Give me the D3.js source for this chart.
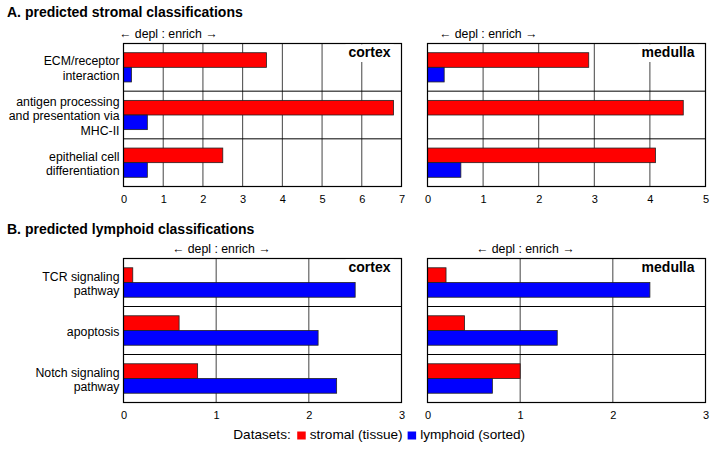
<!DOCTYPE html>
<html><head><meta charset="utf-8">
<script src="https://cdn.jsdelivr.net/npm/d3@7"></script>
<style>body{margin:0;background:#fff}svg{display:block}text{font-family:"Liberation Sans",Arial,sans-serif;fill:#000}</style>
</head><body>
<svg id="c" width="714" height="450"></svg>
<script>
// ---- data ----
const seriesNames = ["stromal (tissue)", "lymphoid (sorted)"];
const seriesColors = ["#ff0000", "#0000ff"];
const stromalCategories = ["ECM/receptor\ninteraction", "antigen processing\nand presentation via\nMHC-II", "epithelial cell\ndifferentiation"];
const lymphoidCategories = ["TCR signaling\npathway", "apoptosis", "Notch signaling\npathway"];
const stromalCortexStromal = [3.6, 6.8, 2.5];
const stromalCortexLymphoid = [0.2, 0.6, 0.6];
const stromalMedullaStromal = [2.9, 4.6, 4.1];
const stromalMedullaLymphoid = [0.3, 0, 0.6];
const lymphoidCortexStromal = [0.1, 0.6, 0.8];
const lymphoidCortexLymphoid = [2.5, 2.1, 2.3];
const lymphoidMedullaStromal = [0.2, 0.4, 1.0];
const lymphoidMedullaLymphoid = [2.4, 1.4, 0.7];
const cortexTicks = [0, 1, 2, 3, 4, 5, 6, 7];
const medullaTicks = [0, 1, 2, 3, 4, 5];
const lymphTicks = [0, 1, 2, 3];
const sectionTitles = ["A. predicted stromal classifications", "B. predicted lymphoid classifications"];
const panelNames = ["cortex", "medulla"];
const directionLabel = "\u2190 depl : enrich \u2192";
const legendTitle = "Datasets:";

const svg = d3.select("#c");

function panel(opts) {
  const {x0, x1, y0, y1, maxV, ticks, cats, s1, s2, name, showCats} = opts;
  const g = svg.append("g");
  const x = d3.scaleLinear().domain([0, maxV]).range([x0, x1]);
  const y = d3.scaleBand().domain(cats).range([y0, y1]).padding(0);
  const sub = d3.scaleBand().domain(seriesNames).range([0, y.bandwidth()]).paddingInner(0).paddingOuter(0.63);
  // vertical gridlines
  g.selectAll("line.grid").data(ticks.slice(1, -1)).enter().append("line")
    .attr("x1", d => x(d)).attr("x2", d => x(d)).attr("y1", y0).attr("y2", y1)
    .attr("stroke", "#444").attr("stroke-width", 1);
  // row separators
  g.selectAll("line.sep").data(cats.slice(1)).enter().append("line")
    .attr("x1", x0).attr("x2", x1).attr("y1", d => y(d)).attr("y2", d => y(d))
    .attr("stroke", "#000").attr("stroke-width", 1);
  // bars
  const rows = [];
  cats.forEach((c, i) => {
    rows.push({c, s: seriesNames[0], v: s1[i], col: seriesColors[0]});
    rows.push({c, s: seriesNames[1], v: s2[i], col: seriesColors[1]});
  });
  g.selectAll("rect.bar").data(rows.filter(r => r.v > 0)).enter().append("rect")
    .attr("x", x(0)).attr("y", d => y(d.c) + sub(d.s))
    .attr("width", d => x(d.v) - x(0)).attr("height", sub.bandwidth())
    .attr("fill", d => d.col).attr("stroke", "#222").attr("stroke-width", 0.8);
  // border
  g.append("rect").attr("x", x0).attr("y", y0).attr("width", x1 - x0).attr("height", y1 - y0)
    .attr("fill", "none").attr("stroke", "#000").attr("stroke-width", 1.2);
  // panel name with white background
  const t = g.append("text").attr("x", x1 - 11).attr("y", y0 + 13.5).attr("text-anchor", "end")
    .attr("font-size", 14).attr("font-weight", "bold").text(name);
  const bb = t.node().getBBox();
  g.insert("rect", "text").attr("x", bb.x - 3).attr("y", y0 + 1).attr("width", bb.width + 6).attr("height", bb.y + bb.height - y0 + 1)
    .attr("fill", "#fff");
  // axis tick labels
  const ax = g.append("g").attr("transform", `translate(0,${y1})`)
    .call(d3.axisBottom(x).tickValues(ticks).tickFormat(d3.format("d")).tickSize(0).tickPadding(9));
  ax.select(".domain").remove();
  ax.selectAll("text").attr("font-size", 11).attr("font-family", "Liberation Sans, Arial, sans-serif");
  // direction label, colon at x=1
  const dl = g.append("text").attr("y", y0 - 5.5).attr("font-size", 12.3).text(directionLabel);
  const idx = directionLabel.indexOf(":");
  const pre = dl.node().getSubStringLength(0, idx);
  const cw = dl.node().getSubStringLength(idx, 1);
  dl.attr("x", x(1) - pre - cw / 2);
  // categories
  if (showCats) {
    const lh = 14.3;
    cats.forEach(c => {
      const lines = c.split("\n");
      const cy = y(c) + y.bandwidth() / 2 + 1;
      const tt = g.append("text").attr("text-anchor", "end").attr("font-size", 12.3);
      lines.forEach((l, i) => {
        tt.append("tspan").attr("x", x0 - 4).attr("y", cy + (i - (lines.length - 1) / 2) * lh + 4.3).text(l);
      });
    });
  }
}

// titles
svg.append("text").attr("x", 7).attr("y", 16.8).attr("font-size", 14).attr("font-weight", "bold").text(sectionTitles[0]);
svg.append("text").attr("x", 7).attr("y", 234).attr("font-size", 14).attr("font-weight", "bold").text(sectionTitles[1]);

const LX0 = 123.5, LX1 = 401.5, RX0 = 427.5, RX1 = 705.5;
panel({x0: LX0, x1: LX1, y0: 43.5, y1: 186.5, maxV: 7, ticks: cortexTicks, cats: stromalCategories, s1: stromalCortexStromal, s2: stromalCortexLymphoid, name: panelNames[0], showCats: true});
panel({x0: RX0, x1: RX1, y0: 43.5, y1: 186.5, maxV: 5, ticks: medullaTicks, cats: stromalCategories, s1: stromalMedullaStromal, s2: stromalMedullaLymphoid, name: panelNames[1], showCats: false});
panel({x0: LX0, x1: LX1, y0: 258.5, y1: 402.5, maxV: 3, ticks: lymphTicks, cats: lymphoidCategories, s1: lymphoidCortexStromal, s2: lymphoidCortexLymphoid, name: panelNames[0], showCats: true});
panel({x0: RX0, x1: RX1, y0: 258.5, y1: 402.5, maxV: 3, ticks: lymphTicks, cats: lymphoidCategories, s1: lymphoidMedullaStromal, s2: lymphoidMedullaLymphoid, name: panelNames[1], showCats: false});

// legend
const lg = svg.append("g");
let lx = 233.3;
const ly = 439;
const lt = lg.append("text").attr("x", lx).attr("y", ly).attr("font-size", 13.6).text(legendTitle);
lx += lt.node().getComputedTextLength() + 6.5;
seriesNames.forEach((s, i) => {
  lg.append("rect").attr("x", lx).attr("y", 431.5).attr("width", 8.5).attr("height", 8).attr("fill", seriesColors[i]);
  lx += 8.5 + 4;
  const st = lg.append("text").attr("x", lx).attr("y", ly).attr("font-size", 13.6).text(s);
  lx += st.node().getComputedTextLength() + 5;
});
</script>
</body></html>
